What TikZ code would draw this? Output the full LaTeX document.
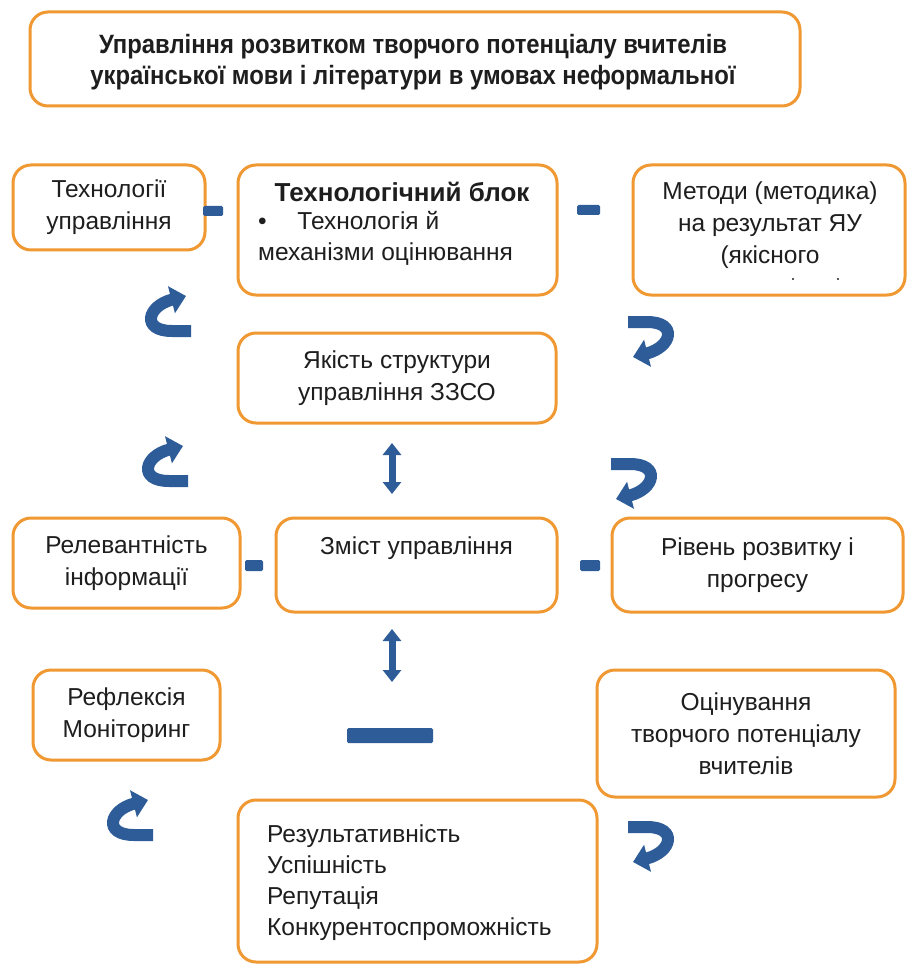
\documentclass[tikz,border=0pt]{standalone}
\usepackage{fontspec}
\setmainfont{Liberation Sans}
\newfontfamily\titlefont[FakeStretch=0.9]{Liberation Sans}
\usetikzlibrary{arrows.meta}
\definecolor{obord}{RGB}{240,152,50}
\definecolor{dblue}{RGB}{46,92,152}
\definecolor{tcol}{RGB}{30,30,30}
\begin{document}
\begin{tikzpicture}[x=1pt,y=-1pt,
 box/.style={draw=obord, line width=3pt, rounded corners=18pt, fill=white, inner sep=0pt},
 txt/.style={text=tcol, font=\fontsize{24.5}{32}\selectfont, align=center, inner sep=0pt},
 ltxt/.style={text=tcol, font=\fontsize{24.5}{31}\selectfont, align=left, inner sep=0pt, anchor=north west},
 bar/.style={fill=dblue, draw=none, inner sep=0pt, rounded corners=1.5pt},
 dbl/.style={draw=dblue, line width=7pt, {Triangle[length=12pt,width=18pt]}-{Triangle[length=12pt,width=18pt]}},
 curv/.pic={\draw[draw=dblue, line width=12pt, -{Triangle[length=15pt,width=27pt]}] (25,13) -- (6,13) .. controls (-25,13) and (-19,-12) .. (20,-22);}
]
\useasboundingbox[fill=white] (0,0) rectangle (908,965);

% title
\node[box, minimum width=770pt, minimum height=94pt] (title) at (415,59) {};
\node[txt, font=\titlefont\bfseries\fontsize{26.5}{31}\selectfont] (titletext) at (413,62)
  {Управління розвитком творчого потенціалу вчителів\\української мови і літератури в умовах неформальної};

% row 1
\node[box, txt, minimum width=192pt, minimum height=85pt] (tu) at (109,207.5) {Технології\\управління};
\node[box, minimum width=319pt, minimum height=130pt] (tb) at (397.5,230) {};
\node[txt, font=\bfseries\fontsize{26}{30}\selectfont] (tbhead) at (402,192) {Технологічний блок};
\node[ltxt] (tbbody) at (258,211) {•\hspace{1.25em}Технологія й\\механізми оцінювання};
\node[box, minimum width=272pt, minimum height=130pt] (met) at (769,230) {};
\node[txt] (mettext) at (770,225) {Методи (методика)\\на результат ЯУ\\(якісного};
\fill[tcol] (793,279) circle (1.2pt) (838,279) circle (1.2pt);

\node[bar, minimum width=20pt, minimum height=10pt] (b1) at (213,211) {};
\node[bar, minimum width=23pt, minimum height=10pt] (b2) at (588.5,210) {};

% row 2
\node[box, txt, minimum width=318pt, minimum height=90pt] (ya) at (397,378) {Якість структури\\управління ЗЗСО};

% row 3
\node[box, txt, minimum width=227pt, minimum height=90pt] (rel) at (126.5,563) {Релевантність\\інформації};
\node[box, minimum width=281pt, minimum height=94pt] (zm) at (416.5,565) {};
\node[txt] (zmtext) at (416.5,548) {Зміст управління};
\node[box, txt, minimum width=291pt, minimum height=94pt] (riv) at (757.5,565) {Рівень розвитку і\\прогресу};
\node[bar, minimum width=18pt, minimum height=11pt] (b3) at (254,565.5) {};
\node[bar, minimum width=20pt, minimum height=11pt] (b4) at (590,565.5) {};

% row 4
\node[box, txt, minimum width=187pt, minimum height=90pt] (ref) at (126.5,715) {Рефлексія\\Моніторинг};
\node[box, txt, minimum width=298pt, minimum height=127pt] (oc) at (746,733.5) {Оцінування\\творчого потенціалу\\вчителів};
\node[bar, minimum width=86pt, minimum height=15pt] (b5) at (390,735.5) {};

% results
\node[box, minimum width=359pt, minimum height=162pt] (res) at (417.5,881) {};
\node[ltxt] (restext) at (267,825) {Результативність\\Успішність\\Репутація\\Конкурентоспроможність};

% double arrows
\coordinate (a1) at (392,443);
\coordinate (a2) at (392,494);
\coordinate (a3) at (392,629);
\coordinate (a4) at (392,682);
\draw[dbl] (a1) -- (a2);
\draw[dbl] (a3) -- (a4);

% curved arrows
\pic at (166,318) {curv};
\pic at (163,468) {curv};
\pic at (128,822) {curv};
\pic[rotate=180] at (653,335) {curv};
\pic[rotate=180] at (636,477) {curv};
\pic[rotate=180] at (653,840) {curv};
\end{tikzpicture}
\end{document}
